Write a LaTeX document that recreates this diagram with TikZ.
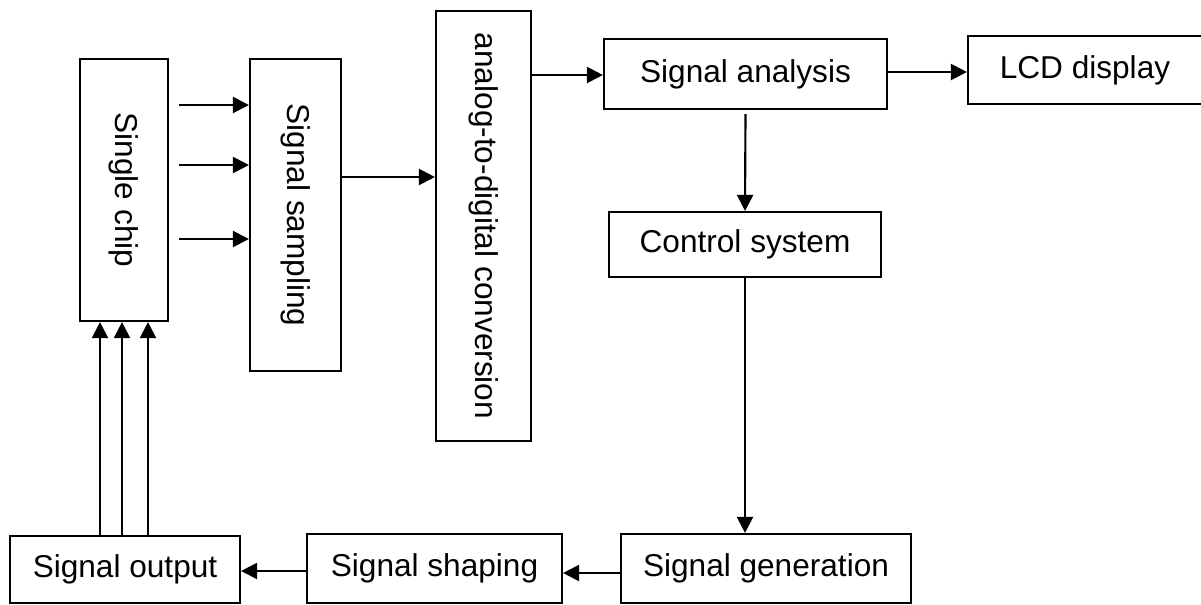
\documentclass[tikz,border=0pt]{standalone}
\usepackage{fontspec}
\setmainfont{Liberation Sans}
\usetikzlibrary{arrows.meta}

\begin{document}
\begin{tikzpicture}[x=0.75pt,y=-0.75pt,
    box/.style={draw,line width=1.6pt,inner sep=0pt,font=\fontsize{23.7}{28}\selectfont},
    arr/.style={line width=1.6pt,-{Triangle[length=12pt,width=12pt]}}]
      \useasboundingbox (0,0) rectangle (1201,604) ;
      % left column
      \node[box,minimum width=66pt,minimum height=196.5pt] (chip) at (124,190) {\rotatebox{-90}{Single chip}} ;
      \node[box,minimum width=68.25pt,minimum height=234pt] (samp) at (295.5,215) {\rotatebox{-90}{Signal sampling}} ;
      \node[box,minimum width=71.25pt,minimum height=322.5pt] (adc) at (483.5,226) {\rotatebox{-90}{analog-to-digital conversion}} ;
      % right part
      \node[box,minimum width=212.25pt,minimum height=52.5pt] (ana) at (745.5,74) {Signal analysis} ;
      \node[box,minimum width=175.5pt,minimum height=51pt] (lcd) at (1085,70) {LCD display} ;
      \node[box,minimum width=204pt,minimum height=48.75pt] (ctrl) at (745,244.5) {Control system} ;
      % bottom row
      \node[box,minimum width=217.5pt,minimum height=51.75pt] (gen) at (766,568.5) {Signal generation} ;
      \node[box,minimum width=191.25pt,minimum height=51.75pt] (shape) at (434.5,568.5) {Signal shaping} ;
      \node[box,minimum width=172.5pt,minimum height=50.25pt] (out) at (125,569.5) {Signal output} ;
      % connectors
      \foreach \yy in {105,165,239}
        \draw[arr] ([xshift=7.5pt]chip.east |- 0,\yy) -- (samp.west |- 0,\yy) ;
      \draw[arr] (samp.east |- 0,177) -- (adc.west |- 0,177) ;
      \draw[arr] (adc.east |- 0,75) -- (ana.west |- 0,75) ;
      \draw[arr] (ana.east |- 0,72) -- (lcd.west |- 0,72) ;
      \draw[arr] ([yshift=-3pt]ana.south) -- (ctrl.north) ;
      \draw[arr] (ctrl.south) -- (ctrl.south |- gen.north) ;
      \draw[arr] (gen.west |- 0,573) -- (shape.east |- 0,573) ;
      \draw[arr] (shape.west |- 0,571) -- (out.east |- 0,571) ;
      \foreach \xx in {100,122,148}
        \draw[arr] (out.north -| \xx,0) -- (chip.south -| \xx,0) ;
    \end{tikzpicture}
\end{document}
